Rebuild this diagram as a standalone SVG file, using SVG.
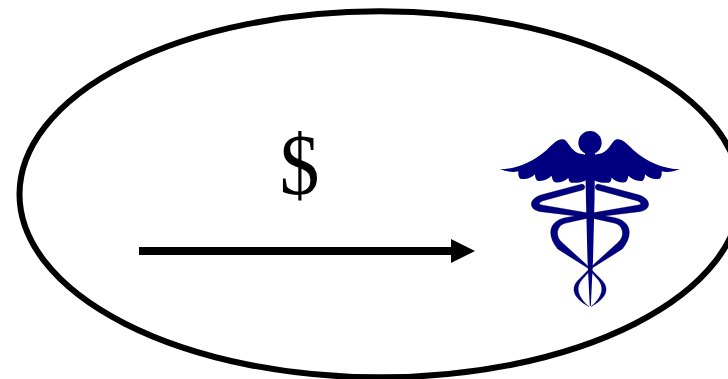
<svg xmlns="http://www.w3.org/2000/svg" xmlns:xlink="http://www.w3.org/1999/xlink" width="728" height="379" viewBox="0 0 728 379">
<style>
.navy{fill:#000080}
.snake{fill:#000080;stroke:#000030;stroke-width:1}
text{font-family:"Liberation Serif","Times New Roman",serif;fill:#000}
</style>
<defs>
<marker id="head" markerUnits="userSpaceOnUse" markerWidth="24" markerHeight="24" refX="0" refY="12" orient="auto"><path d="M0,0 L24,12 L0,24 Z" fill="#000"/></marker>
<path id="wing" class="navy" d="M30,148 C50,155 68,158 85,154 C84,165 86,172 91,176 C108,180 124,174 135,163 C135,172 137,178 142,182 C158,185 174,178 185,167 C186,176 189,183 194,187 C210,189 226,183 235,173 C236,181 238,185 243,188 C260,190 275,187 290,180 L290,105 L265,100 C240,90 235,62 220,58 C205,55 190,70 170,90 C130,125 80,147 30,148 Z"/>
<path id="snake" class="snake" d="M186,12 L70,43 C25,53 22,90 62,95 L210,113 L285,130 C310,137 316,170 293,188 L225,250 L175,300 C150,325 160,355 207,380 C175,352 165,325 185,300 L217,264 L307,207 C338,170 338,125 285,113 L210,100 L65,75 C55,72 55,68 70,62 L188,30 C197,26 197,15 186,12 Z"/>
</defs>
<g id="boundary"><ellipse cx="380" cy="194.300" rx="360.500" ry="183" fill="#fff" stroke="#000" stroke-width="6"/></g>
<g id="money"><text transform="translate(299.500,194) scale(.93,1)" font-size="86" text-anchor="middle">$</text></g>
<g id="connectors"><line x1="139" y1="251" x2="451" y2="251" stroke="#000" stroke-width="8" marker-end="url(#head)"/></g>
<g id="caduceus">
<g transform="translate(490,120) scale(.33333)">
<use xlink:href="#wing" href="#wing"/>
<use xlink:href="#wing" href="#wing" transform="translate(600,0) scale(-1,1)"/>
<circle class="navy" cx="300" cy="68" r="35"/>
</g>
<path class="navy" d="M585,152 L595,152 L594.500,200 L593,260 L590.800,306 L589.800,306 L587.500,260 L586,200 Z"/>
<g transform="translate(520,180) scale(.33333)">
<use xlink:href="#snake" href="#snake" transform="translate(420,0) scale(-1,1)"/>
<use xlink:href="#snake" href="#snake"/>
</g>
</g>
</svg>
